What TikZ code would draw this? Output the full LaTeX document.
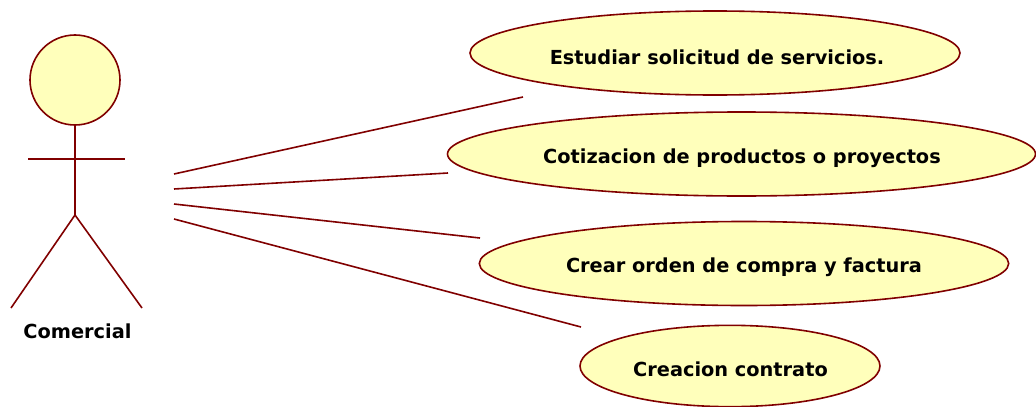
\documentclass[tikz,border=0pt]{standalone}
\usepackage{fontspec}
\setmainfont{DejaVu Sans}
\usetikzlibrary{shapes.geometric}
\definecolor{umlline}{RGB}{128,0,0}
\definecolor{umlfill}{RGB}{255,255,187}
\tikzset{
 x=0.75pt,y=-0.75pt,
 usecase/.style={ellipse,draw=umlline,fill=umlfill,line width=1.2pt,inner sep=0pt},
 assoc/.style={draw=umlline,line width=1.2pt},
 lbl/.style={font=\bfseries\fontsize{14.5}{17}\selectfont,text=black,inner sep=0pt}
}
\begin{document}
\begin{tikzpicture}
\useasboundingbox (0,0) rectangle (1036,407);
\node[usecase,minimum width=367.5pt,minimum height=63pt] (u1) at (715,53) {};
\node[usecase,minimum width=441pt,minimum height=63pt] (u2) at (741.5,154) {};
\node[usecase,minimum width=397pt,minimum height=63pt] (u3) at (744,263.5) {};
\node[usecase,minimum width=225pt,minimum height=61pt] (u4) at (730,366) {};
\node[lbl] (t1) at (717,57) {Estudiar solicitud de servicios.};
\node[lbl] (t2) at (742,158) {Cotizacion de productos o proyectos};
\node[lbl] (t3) at (744,267) {Crear orden de compra y factura};
\node[lbl] (t4) at (730.5,369) {Creacion contrato};
\node[circle,draw=umlline,fill=umlfill,line width=1.2pt,minimum size=67.5pt,inner sep=0pt] (head) at (75,80) {};
\coordinate (hip) at (75,215);
\coordinate (armL) at (28,159);
\coordinate (armR) at (125,159);
\coordinate (footL) at (11,308);
\coordinate (footR) at (142,308);
\draw[assoc] (head.south) -- (hip);
\draw[assoc] (armL) -- (armR);
\draw[assoc] (footL) -- (hip) -- (footR);
\node[lbl] (name) at (77.5,331) {Comercial};
\coordinate (a1) at (174,174);
\coordinate (a2) at (174,189);
\coordinate (a3) at (174,204);
\coordinate (a4) at (174,219);
\coordinate (e1) at (523,97);
\coordinate (e2) at (448,173);
\coordinate (e3) at (480,238);
\coordinate (e4) at (581,327);
\draw[assoc] (a1) -- (e1);
\draw[assoc] (a2) -- (e2);
\draw[assoc] (a3) -- (e3);
\draw[assoc] (a4) -- (e4);
\end{tikzpicture}
\end{document}
